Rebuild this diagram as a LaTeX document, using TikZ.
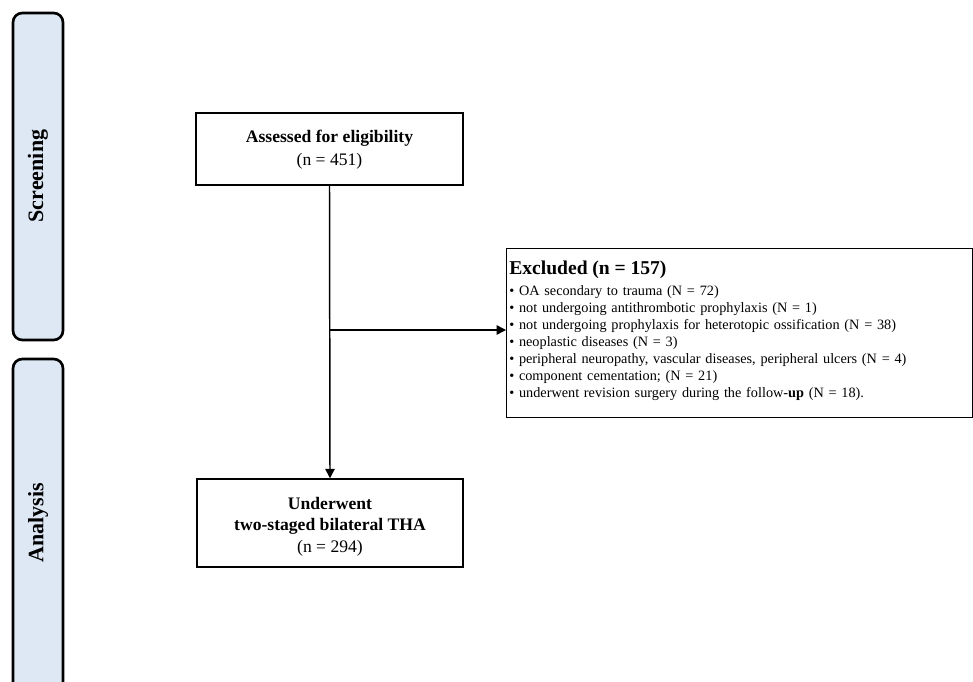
\documentclass[tikz,border=0pt]{standalone}
\usepackage{fontspec}
\setmainfont{Liberation Serif}
\usetikzlibrary{arrows.meta}
\definecolor{phase}{HTML}{DEE8F4}
\tikzset{
  phasebox/.style={draw=black, line width=2pt, fill=phase, rounded corners=7pt},
  phaselabel/.style={rotate=90, font=\bfseries\fontsize{16.5}{18}\selectfont},
  boxframe/.style={draw=black, line width=1.1pt, fill=white, inner sep=0pt},
  boxtext/.style={align=center, inner sep=0pt, font=\fontsize{13.2}{17}\selectfont},
  conn/.style={line width=1.1pt, -{Triangle[length=7pt,width=7pt]}},
}
\begin{document}
\begin{tikzpicture}[x=0.75pt,y=-0.75pt]
\useasboundingbox (0,0) rectangle (973,681);
\clip (0,0) rectangle (973,681);
% phase boxes
\draw[phasebox] (13,13) rectangle (63,340);
\node[phaselabel] (screening) at (38,176) {Screening};
\draw[phasebox] (13,359) rectangle (63,720);
\node[phaselabel] (analysis) at (38,523) {Analysis};
% flow boxes
\node[boxframe, minimum width=267*0.75pt, minimum height=72*0.75pt] (assessed) at (329.5,149) {};
\node[boxtext] (assessedtext) at (329.5,150)
  {\textbf{Assessed for eligibility}\\(n = 451)};
\node[boxframe, minimum width=266*0.75pt, minimum height=88*0.75pt] (thas) at (330,523) {};
\node[boxtext, font=\fontsize{13.2}{16}\selectfont] (thastext) at (330,526.5)
  {\textbf{Underwent}\\\textbf{two-staged bilateral THA}\\(n = 294)};
\node[boxframe, anchor=north west, minimum width=466*0.75pt,
      minimum height=169*0.75pt] (excl) at (506,248) {};
\node[anchor=north west, align=left, inner sep=0pt, text width=455*0.75pt,
      font=\fontsize{10.7}{12.75}\selectfont] (excltext) at (509,261)
  {{\bfseries\fontsize{14.7}{15}\selectfont Excluded (n = 157)}\\[3pt]
   • OA secondary to trauma (N = 72)\\
   • not undergoing antithrombotic prophylaxis (N = 1)\\
   • not undergoing prophylaxis for heterotopic ossification (N = 38)\\
   • neoplastic diseases (N = 3)\\
   • peripheral neuropathy, vascular diseases, peripheral ulcers (N = 4)\\
   • component cementation; (N = 21)\\
   • underwent revision surgery during the follow-\textbf{up} (N = 18).};
% connectors
\coordinate (branch) at (329.5,330);
\draw[conn] (assessed.south) -- (thas.north);
\draw[conn] (branch) -- (excl.west |- branch);
\end{tikzpicture}
\end{document}
